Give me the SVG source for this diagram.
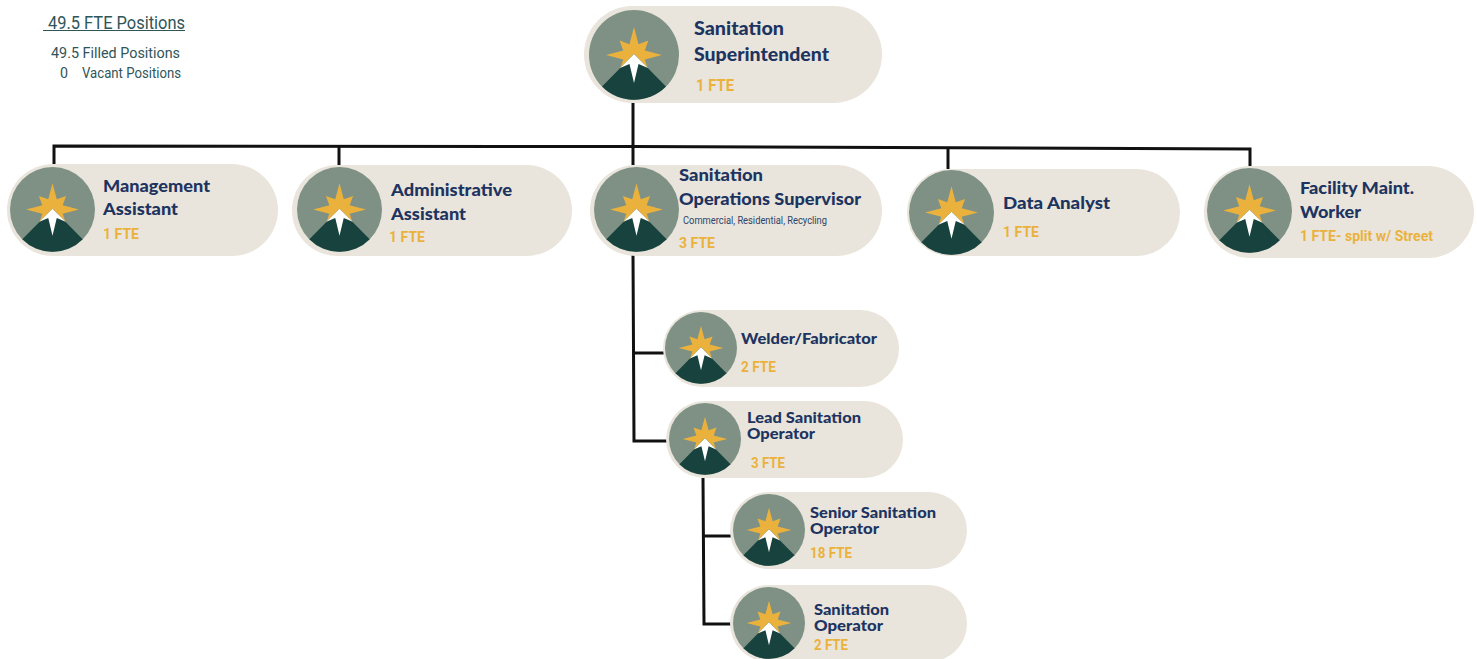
<svg xmlns="http://www.w3.org/2000/svg" width="1477" height="659" viewBox="0 0 1477 659">
<style>
.pill{fill:#e9e5dc}
.t{font-family:"Lato","Liberation Sans",sans-serif;font-weight:900;fill:#1d3461}
.f{font-family:"Roboto","Liberation Sans",sans-serif;font-weight:700;fill:#eab23d}
.s{font-family:"Roboto","Liberation Sans",sans-serif;fill:#2f5558}
.c{fill:none;stroke:#111;stroke-width:3}
</style>
<defs>
<symbol id="logo" viewBox="-50 -50 100 100" overflow="visible">
<circle r="50" fill="#7f9184"/>
<polygon fill="#eab23d" points="0,-31 5,-12 16,-16 12,-5 31,0 12,5 16,17 5,12 0,31 -5,12 -16,17 -12,5 -31,0 -12,-5 -16,-16 -5,-12"/>
<path fill="#17423d" d="M0 -1L-35.500 35A50 50 0 0 0 35.500 35Z"/>
<polygon fill="#fff" points="0,-1 -15.500,14.500 -5,10 0,31 5,10 15.500,14.500"/>
</symbol>
</defs>
<g id="connectors">
<path class="c" d="M54 164V146L633 146.500L1250 149V166"/>
<path class="c" d="M339 146.500V165"/>
<path class="c" d="M633 103V165"/>
<path class="c" d="M948 148V169"/>
<path class="c" d="M633 255L634 441H667"/>
<path class="c" d="M634 353H664"/>
<path class="c" d="M703 478L704 624H731"/>
<path class="c" d="M704 536H731"/>
</g>
<g id="legend">
<text class="s" x="48" y="29" font-size="18" textLength="137" lengthAdjust="spacingAndGlyphs">49.5 FTE Positions</text>
<path d="M43 30.500H185" stroke="#2f5558" stroke-width="1"/>
<text class="s" x="51" y="58" font-size="15" textLength="129" lengthAdjust="spacingAndGlyphs">49.5 Filled Positions</text>
<text class="s" x="60" y="78" font-size="15" textLength="8" lengthAdjust="spacingAndGlyphs">0</text>
<text class="s" x="82" y="78" font-size="15" textLength="99" lengthAdjust="spacingAndGlyphs">Vacant Positions</text>
</g>
<g id="superintendent">
<rect class="pill" x="584" y="6" width="298" height="97" rx="48.500"/>
<use href="#logo" x="589" y="10" width="90" height="90"/>
<text class="t" x="694" y="35" font-size="18.500" textLength="90" lengthAdjust="spacingAndGlyphs">Sanitation</text>
<text class="t" x="694" y="61" font-size="18.500" textLength="135" lengthAdjust="spacingAndGlyphs">Superintendent</text>
<text class="f" x="696" y="91" font-size="16" textLength="38" lengthAdjust="spacingAndGlyphs">1 FTE</text>
</g>
<g id="management-assistant">
<rect class="pill" x="7" y="164" width="271" height="92" rx="46"/>
<use href="#logo" x="10" y="167" width="85" height="85"/>
<text class="t" x="103" y="192" font-size="17" textLength="107" lengthAdjust="spacingAndGlyphs">Management</text>
<text class="t" x="103" y="215" font-size="17" textLength="75" lengthAdjust="spacingAndGlyphs">Assistant</text>
<text class="f" x="103" y="239" font-size="15" textLength="36" lengthAdjust="spacingAndGlyphs">1 FTE</text>
</g>
<g id="administrative-assistant">
<rect class="pill" x="292" y="165" width="280" height="91" rx="45.500"/>
<use href="#logo" x="297" y="167" width="85" height="85"/>
<text class="t" x="391" y="196" font-size="17" textLength="121" lengthAdjust="spacingAndGlyphs">Administrative</text>
<text class="t" x="391" y="220" font-size="17" textLength="75" lengthAdjust="spacingAndGlyphs">Assistant</text>
<text class="f" x="389" y="242" font-size="15" textLength="36" lengthAdjust="spacingAndGlyphs">1 FTE</text>
</g>
<g id="operations-supervisor">
<rect class="pill" x="590" y="165" width="292" height="91" rx="45.500"/>
<use href="#logo" x="594" y="167" width="85" height="85"/>
<text class="t" x="679" y="181" font-size="17" textLength="84" lengthAdjust="spacingAndGlyphs">Sanitation</text>
<text class="t" x="679" y="205" font-size="17" textLength="182" lengthAdjust="spacingAndGlyphs">Operations Supervisor</text>
<text x="683" y="224" font-size="10" fill="#2d4468" textLength="144" lengthAdjust="spacingAndGlyphs" style="font-family:Roboto,'Liberation Sans',sans-serif">Commercial, Residential, Recycling</text>
<text class="f" x="679" y="248" font-size="15" textLength="36" lengthAdjust="spacingAndGlyphs">3 FTE</text>
</g>
<g id="data-analyst">
<rect class="pill" x="907" y="169" width="273" height="87" rx="43.500"/>
<use href="#logo" x="909" y="170" width="85" height="85"/>
<text class="t" x="1003" y="209" font-size="17" textLength="107" lengthAdjust="spacingAndGlyphs">Data Analyst</text>
<text class="f" x="1003" y="237" font-size="15" textLength="36" lengthAdjust="spacingAndGlyphs">1 FTE</text>
</g>
<g id="facility-maint-worker">
<rect class="pill" x="1204" y="166" width="270" height="92" rx="46"/>
<use href="#logo" x="1207" y="168" width="85" height="85"/>
<text class="t" x="1300" y="194" font-size="17" textLength="114" lengthAdjust="spacingAndGlyphs">Facility Maint.</text>
<text class="t" x="1300" y="218" font-size="17" textLength="61" lengthAdjust="spacingAndGlyphs">Worker</text>
<text class="f" x="1300" y="241" font-size="15" textLength="133" lengthAdjust="spacingAndGlyphs">1 FTE- split w/ Street</text>
</g>
<g id="welder-fabricator">
<rect class="pill" x="663" y="310" width="236" height="77" rx="38.500"/>
<use href="#logo" x="665" y="312" width="72" height="72"/>
<text class="t" x="741" y="344" font-size="15.500" textLength="136" lengthAdjust="spacingAndGlyphs">Welder/Fabricator</text>
<text class="f" x="741" y="372" font-size="14" textLength="35" lengthAdjust="spacingAndGlyphs">2 FTE</text>
</g>
<g id="lead-sanitation-operator">
<rect class="pill" x="666" y="401" width="237" height="77" rx="38.500"/>
<use href="#logo" x="669" y="403" width="72" height="72"/>
<text class="t" x="747" y="423" font-size="15" textLength="114" lengthAdjust="spacingAndGlyphs">Lead Sanitation</text>
<text class="t" x="747" y="439" font-size="15" textLength="68" lengthAdjust="spacingAndGlyphs">Operator</text>
<text class="f" x="751" y="468" font-size="14" textLength="34" lengthAdjust="spacingAndGlyphs">3 FTE</text>
</g>
<g id="senior-sanitation-operator">
<rect class="pill" x="730" y="492" width="237" height="77" rx="38.500"/>
<use href="#logo" x="733" y="494" width="72" height="72"/>
<text class="t" x="810" y="518" font-size="15" textLength="126" lengthAdjust="spacingAndGlyphs">Senior Sanitation</text>
<text class="t" x="810" y="534" font-size="15" textLength="69" lengthAdjust="spacingAndGlyphs">Operator</text>
<text class="f" x="810" y="558" font-size="14" textLength="42" lengthAdjust="spacingAndGlyphs">18 FTE</text>
</g>
<g id="sanitation-operator">
<rect class="pill" x="730" y="585" width="237" height="77" rx="38.500"/>
<use href="#logo" x="733" y="587" width="72" height="72"/>
<text class="t" x="814" y="615" font-size="15" textLength="75" lengthAdjust="spacingAndGlyphs">Sanitation</text>
<text class="t" x="814" y="631" font-size="15" textLength="69" lengthAdjust="spacingAndGlyphs">Operator</text>
<text class="f" x="814" y="650" font-size="14" textLength="34" lengthAdjust="spacingAndGlyphs">2 FTE</text>
</g>
</svg>
